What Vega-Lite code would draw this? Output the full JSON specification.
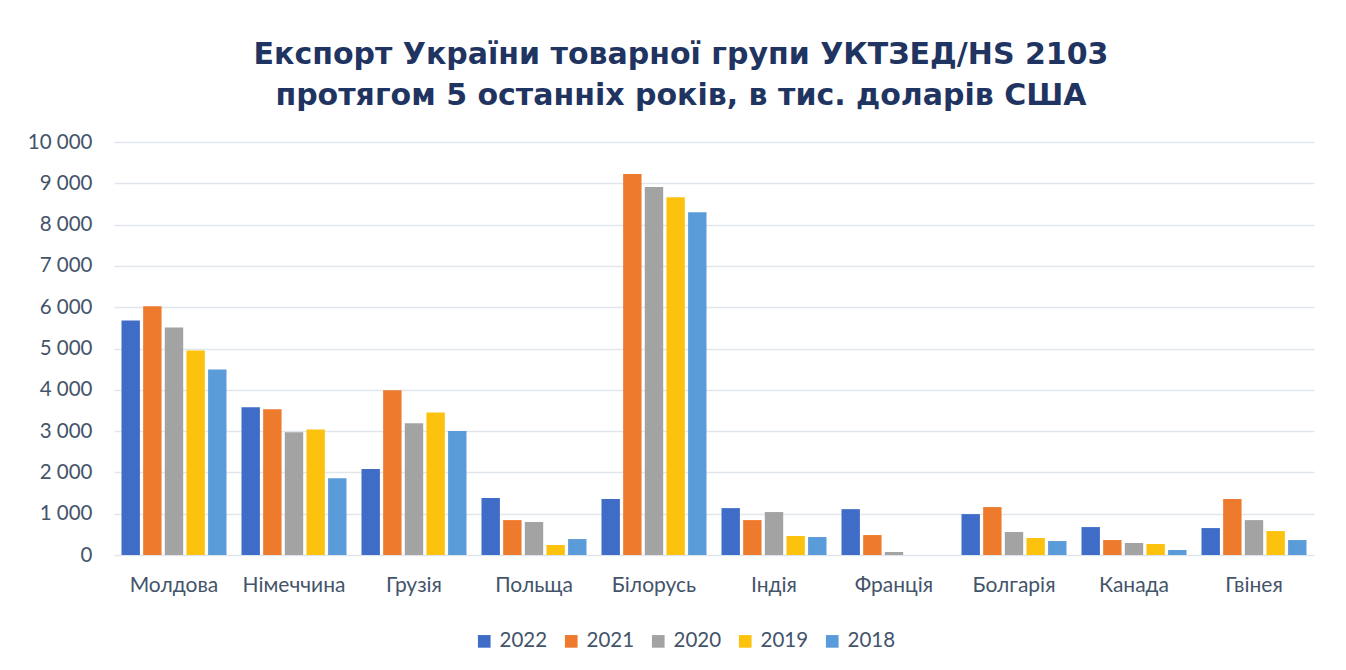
{
  "$schema": "https://vega.github.io/schema/vega-lite/v6.json",
  "autosize": "none",
  "width": 1200,
  "height": 413,
  "padding": {"left": 114, "top": 142, "right": 32, "bottom": 115},
  "background": "white",
  "title": {
    "text": ["Експорт України товарної групи УКТЗЕД/HS 2103", "протягом 5 останніх років, в тис. доларів США"],
    "font": "DejaVu Sans",
    "fontSize": 30,
    "fontWeight": "bold",
    "color": "#1F3460",
    "anchor": "middle",
    "dx": -33,
    "offset": 21,
    "lineHeight": 41
  },
  "data": {
    "values": [
      {"country": "Молдова", "year": "2022", "value": 5680},
      {"country": "Молдова", "year": "2021", "value": 6020},
      {"country": "Молдова", "year": "2020", "value": 5510},
      {"country": "Молдова", "year": "2019", "value": 4950},
      {"country": "Молдова", "year": "2018", "value": 4490},
      {"country": "Німеччина", "year": "2022", "value": 3580},
      {"country": "Німеччина", "year": "2021", "value": 3530},
      {"country": "Німеччина", "year": "2020", "value": 2970},
      {"country": "Німеччина", "year": "2019", "value": 3040},
      {"country": "Німеччина", "year": "2018", "value": 1860},
      {"country": "Грузія", "year": "2022", "value": 2080},
      {"country": "Грузія", "year": "2021", "value": 3990},
      {"country": "Грузія", "year": "2020", "value": 3190},
      {"country": "Грузія", "year": "2019", "value": 3450},
      {"country": "Грузія", "year": "2018", "value": 3000},
      {"country": "Польща", "year": "2022", "value": 1380},
      {"country": "Польща", "year": "2021", "value": 845},
      {"country": "Польща", "year": "2020", "value": 800},
      {"country": "Польща", "year": "2019", "value": 242},
      {"country": "Польща", "year": "2018", "value": 386},
      {"country": "Білорусь", "year": "2022", "value": 1355},
      {"country": "Білорусь", "year": "2021", "value": 9225},
      {"country": "Білорусь", "year": "2020", "value": 8910},
      {"country": "Білорусь", "year": "2019", "value": 8665},
      {"country": "Білорусь", "year": "2018", "value": 8300},
      {"country": "Індія", "year": "2022", "value": 1135},
      {"country": "Індія", "year": "2021", "value": 845},
      {"country": "Індія", "year": "2020", "value": 1040},
      {"country": "Індія", "year": "2019", "value": 460},
      {"country": "Індія", "year": "2018", "value": 435},
      {"country": "Франція", "year": "2022", "value": 1110},
      {"country": "Франція", "year": "2021", "value": 483},
      {"country": "Франція", "year": "2020", "value": 72},
      {"country": "Франція", "year": "2019", "value": 0},
      {"country": "Франція", "year": "2018", "value": 0},
      {"country": "Болгарія", "year": "2022", "value": 990},
      {"country": "Болгарія", "year": "2021", "value": 1160},
      {"country": "Болгарія", "year": "2020", "value": 556},
      {"country": "Болгарія", "year": "2019", "value": 411},
      {"country": "Болгарія", "year": "2018", "value": 338},
      {"country": "Канада", "year": "2022", "value": 676},
      {"country": "Канада", "year": "2021", "value": 362},
      {"country": "Канада", "year": "2020", "value": 290},
      {"country": "Канада", "year": "2019", "value": 266},
      {"country": "Канада", "year": "2018", "value": 121},
      {"country": "Гвінея", "year": "2022", "value": 652},
      {"country": "Гвінея", "year": "2021", "value": 1353},
      {"country": "Гвінея", "year": "2020", "value": 845},
      {"country": "Гвінея", "year": "2019", "value": 580},
      {"country": "Гвінея", "year": "2018", "value": 362}
    ]
  },
  "mark": {"type": "bar"},
  "encoding": {
    "x": {
      "field": "country",
      "type": "nominal",
      "sort": ["Молдова", "Німеччина", "Грузія", "Польща", "Білорусь", "Індія", "Франція", "Болгарія", "Канада", "Гвінея"],
      "scale": {"paddingInner": 0.125, "paddingOuter": 0.0625},
      "axis": {
        "title": null,
        "labelAngle": 0,
        "labelFont": "Lato",
        "labelFontSize": 21,
        "labelColor": "#44546A",
        "labelPadding": 19,
        "ticks": false,
        "domain": false
      }
    },
    "xOffset": {
      "field": "year",
      "type": "nominal",
      "sort": ["2022", "2021", "2020", "2019", "2018"],
      "scale": {"paddingInner": 0.15}
    },
    "y": {
      "field": "value",
      "type": "quantitative",
      "scale": {"domain": [0, 10000]},
      "axis": {
        "title": null,
        "values": [0, 1000, 2000, 3000, 4000, 5000, 6000, 7000, 8000, 9000, 10000],
        "labelExpr": "replace(format(datum.value, ','), ',', ' ')",
        "labelFont": "Lato",
        "labelFontSize": 20.5,
        "labelColor": "#44546A",
        "labelPadding": 22,
        "ticks": false,
        "domain": false,
        "gridColor": "#E1E5EC",
        "gridWidth": 1.5
      }
    },
    "color": {
      "field": "year",
      "type": "nominal",
      "scale": {
        "domain": ["2022", "2021", "2020", "2019", "2018"],
        "range": ["#3F6CC6", "#EE7A2D", "#A3A3A3", "#FDC20E", "#5A9BD9"]
      },
      "legend": {
        "title": null,
        "orient": "none",
        "direction": "horizontal",
        "legendX": 360,
        "legendY": 489,
        "symbolType": "square",
        "symbolSize": 160,
        "symbolStrokeWidth": 0,
        "labelFont": "Lato",
        "labelFontSize": 20.5,
        "labelColor": "#44546A",
        "labelOffset": 5,
        "columnPadding": 13
      }
    }
  },
  "config": {
    "view": {"stroke": null}
  }
}
